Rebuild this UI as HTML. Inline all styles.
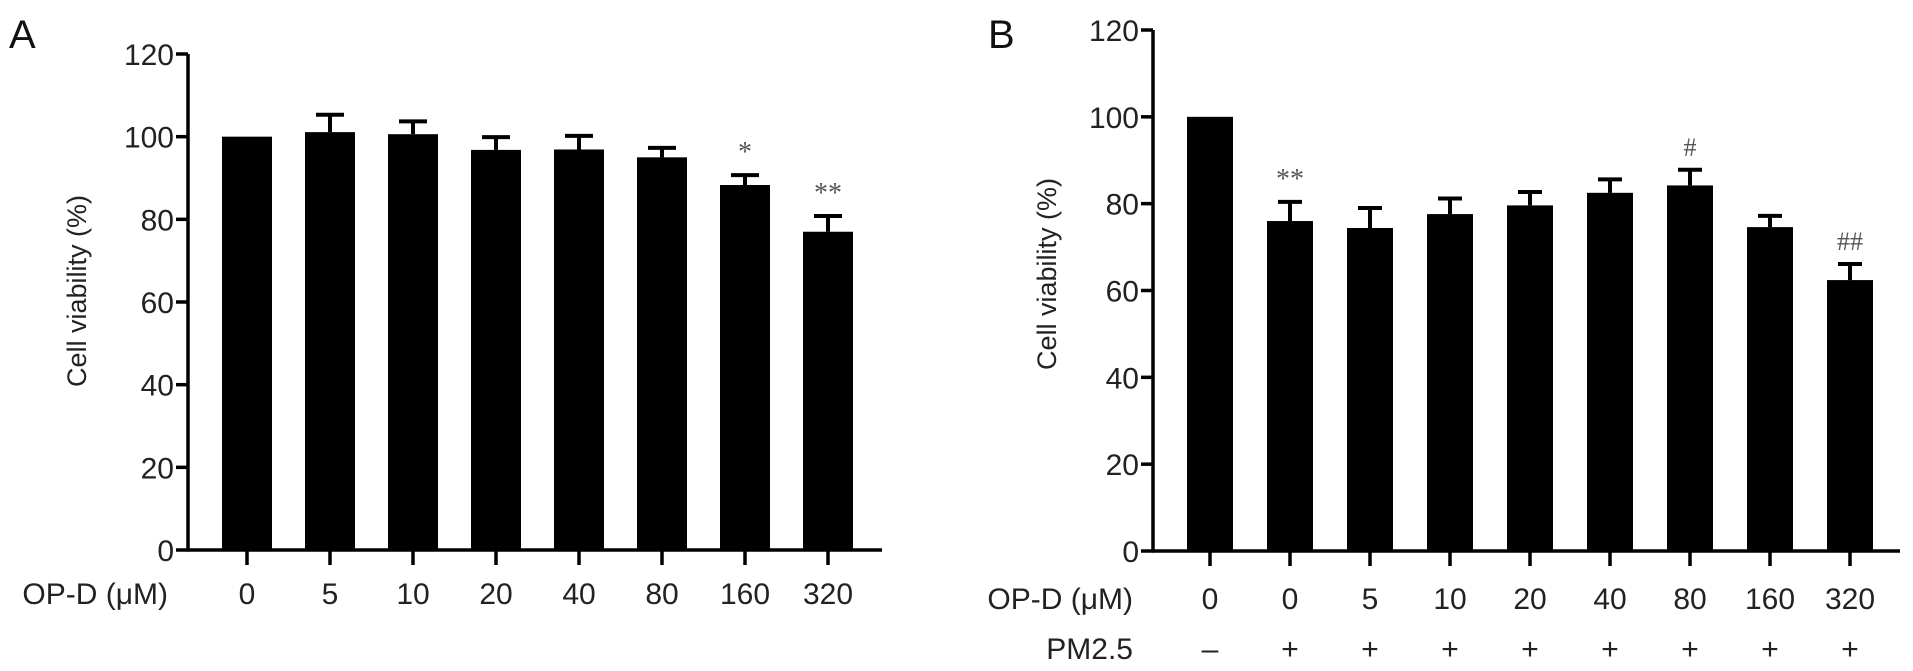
<!DOCTYPE html>
<html><head><meta charset="utf-8"><style>
html,body{margin:0;padding:0;background:#fff;}
svg{display:block;font-family:"Liberation Sans",Arial,sans-serif;}
</style></head><body>
<svg id="fig" width="1913" height="671" viewBox="0 0 1913 671"></svg>
<script>
const catsA = ["0","5","10","20","40","80","160","320"];
const valsA = [100,101.1,100.6,96.8,96.9,95.0,88.3,77.0];
const errsA = [0,4.2,3.1,3.1,3.3,2.3,2.4,3.8];
const sigA = ["","","","","","","*","**"];
const catsB = ["0","0","5","10","20","40","80","160","320"];
const pmB = ["\u2013","+","+","+","+","+","+","+","+"];
const valsB = [100,76.0,74.4,77.6,79.6,82.5,84.2,74.6,62.4];
const errsB = [0,4.4,4.6,3.6,3.1,3.1,3.6,2.6,3.7];
const sigB = ["","**","","","","","#","","##"];
const yTicks = [0,20,40,60,80,100,120];

const NS="http://www.w3.org/2000/svg";
const svg=document.getElementById('fig');
function mk(tag,attrs,parent){const e=document.createElementNS(NS,tag);for(const k in attrs)e.setAttribute(k,attrs[k]);(parent||svg).appendChild(e);return e;}

function panel(cfg){
  const g=mk('g',{});
  
  
  const y=v=>cfg.y0-(v/120)*(cfg.y0-cfg.y120);
  const x=i=>cfg.x0+i*cfg.step;
  // panel letter
  const L=mk('text',{x:cfg.letterX,y:48,'font-size':40,fill:'#111'},g);L.textContent=cfg.letter;
  
  
  // bars
  cfg.vals.forEach((v,i)=>{
    const r=mk('rect',{x:x(i)-cfg.bw/2,y:y(v),width:cfg.bw,height:cfg.y0-y(v),fill:'#000'},g);
    
    
    if(cfg.errs[i]>0){
      const e=mk('path',{d:`M${x(i)} ${y(v)} V${y(v+cfg.errs[i])} M${x(i)-cfg.cap/2} ${y(v+cfg.errs[i])} H${x(i)+cfg.cap/2}`,stroke:'#000','stroke-width':4,fill:'none'},g);
      
      
    }
    if(cfg.sig[i]){
      const s=mk('text',{x:x(i),y:y(v+cfg.errs[i])-14,'text-anchor':'middle','font-size':cfg.sig[i][0]=='*'?28:26,fill:'#555','font-family':'"Liberation Serif",serif'},g);
      s.textContent=cfg.sig[i];
      
      
    }
  });
  // axes
  const ax=mk('path',{d:`M${cfg.axX} ${cfg.y120} V${cfg.y0} M${cfg.axX-1.5} ${cfg.y0} H${cfg.xEnd}`,stroke:'#000','stroke-width':3.5,fill:'none'},g);
  
  
  yTicks.forEach(t=>{
    mk('line',{x1:cfg.axX-12,x2:cfg.axX,y1:y(t),y2:y(t),stroke:'#000','stroke-width':3.5},g);
    const tl=mk('text',{x:cfg.axX-14,y:y(t)+11,'text-anchor':'end','font-size':cfg.fs,fill:'#222',transform:cfg.sx?`translate(${cfg.axX-14} 0) scale(${cfg.sx} 1) translate(${-(cfg.axX-14)} 0)`:''},g);
    tl.textContent=t;
    
    
  });
  cfg.cats.forEach((c,i)=>{
    mk('line',{x1:x(i),x2:x(i),y1:cfg.y0,y2:cfg.y0+15,stroke:'#000','stroke-width':3.5},g);
    const tl=mk('text',{x:x(i),y:cfg.labY,'text-anchor':'middle','font-size':cfg.fs,fill:'#222'},g);
    tl.textContent=c;
    
    
  });
  const xt=mk('text',{x:cfg.xtX,y:cfg.labY,'text-anchor':'end','font-size':cfg.fs,fill:'#222'},g);
  xt.textContent='OP-D (\u03bcM)';
  
  
  if(cfg.pm){
    cfg.pm.forEach((p,i)=>{
      const t=mk('text',{x:x(i),y:cfg.labY+50,'text-anchor':'middle','font-size':cfg.fs,fill:'#222'},g);
      t.textContent=p;
      
      
    });
    const pt=mk('text',{x:cfg.xtX,y:cfg.labY+50,'text-anchor':'end','font-size':cfg.fs,fill:'#222'},g);
    pt.textContent='PM2.5';
    
    
  }
  const yt=mk('text',{x:0,y:0,'text-anchor':'middle','font-size':27,fill:'#222',transform:`translate(${cfg.ytX} ${cfg.ytY}) rotate(-90)`},g);
  yt.textContent='Cell viability (%)';
  
  
}

panel({id:'panel-a',letter:'A',letterX:9,vals:valsA,errs:errsA,sig:sigA,cats:catsA,
  y0:550,y120:54,x0:247,step:83,bw:50,cap:28,axX:188,xEnd:882,labY:604,xtX:168,fs:30,ytX:86,ytY:291});
panel({id:'panel-b',letter:'B',letterX:988,vals:valsB,errs:errsB,sig:sigB,cats:catsB,pm:pmB,
  y0:551,y120:30,x0:1210,step:80,bw:46,cap:24,axX:1153,xEnd:1900,labY:609,xtX:1133,fs:30,ytX:1056,ytY:274});
</script>
</body></html>
